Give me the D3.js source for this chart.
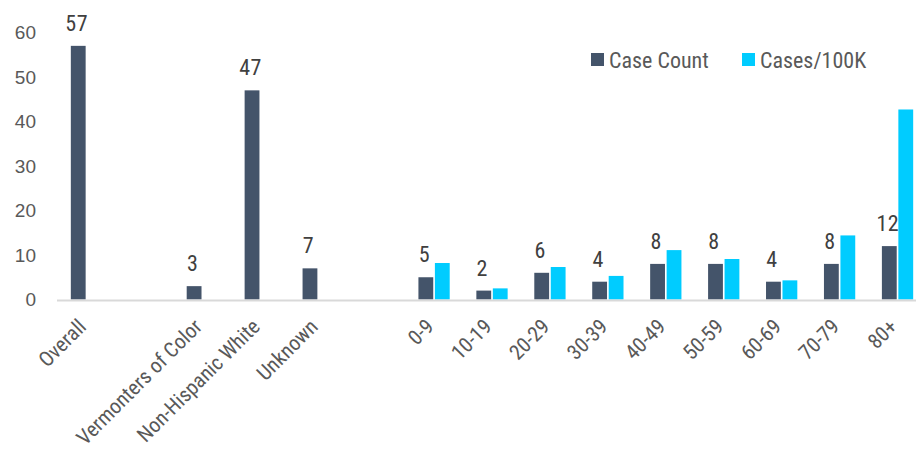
<!DOCTYPE html>
<html>
<head>
<meta charset="utf-8">
<script src="https://cdn.jsdelivr.net/npm/d3@7"></script>
<style>
  body { margin: 0; background: #fff; }
  svg text { font-family: "Liberation Sans Narrow", "Roboto Condensed", "Liberation Sans", sans-serif; }
  svg text.ytick { font-family: "Liberation Sans", Arial, sans-serif; }
</style>
</head>
<body>
<div id="chart"></div>
<script>
// empty strings are the blank slots between the groups
var categories = ["Overall", "", "Vermonters of Color", "Non-Hispanic White", "Unknown", "",
  "0-9", "10-19", "20-29", "30-39", "40-49", "50-59", "60-69", "70-79", "80+"];
var caseCount = [57, null, 3, 47, 7, null, 5, 2, 6, 4, 8, 8, 4, 8, 12];
var casesPer100K = [null, null, null, null, null, null, 8.2, 2.5, 7.3, 5.3, 11.1, 9.1, 4.3, 14.4, 42.7];
var seriesNames = ["Case Count", "Cases/100K"];
var yTicks = [0, 10, 20, 30, 40, 50, 60];

var width = 916, height = 452;
var colors = ["#44546a", "#00ccff"];

var svg = d3.select("#chart").append("svg")
  .attr("width", width)
  .attr("height", height);

// the plot area runs a little past the right edge, as in the original
var x0 = d3.scaleBand()
  .domain(d3.range(categories.length))
  .range([57.5, 926.5])
  .paddingInner(0.46)
  .paddingOuter(0.23);

var x1 = d3.scaleBand()
  .domain([0, 1])
  .range([0, x0.bandwidth()])
  .paddingInner(0.1);

var y = d3.scaleLinear()
  .domain([0, 60])
  .range([299.5, 32.5]);

// y tick labels, no axis line
svg.append("g")
  .selectAll("text")
  .data(yTicks)
  .enter()
  .append("text")
  .attr("class", "ytick")
  .attr("x", 36)
  .attr("y", d => y(d))
  .attr("dy", "0.35em")
  .attr("text-anchor", "end")
  .attr("fill", "#595959")
  .attr("font-size", 19)
  .text(d => d);

var rows = categories.map((c, i) => ({ i: i, vals: [caseCount[i], casesPer100K[i]] }));

var groups = svg.append("g")
  .selectAll("g")
  .data(rows)
  .enter()
  .append("g")
  .attr("transform", d => "translate(" + x0(d.i) + ",0)");

groups.selectAll("rect")
  .data(d => d.vals.map((v, s) => ({ s: s, v: v })).filter(e => e.v != null))
  .enter()
  .append("rect")
  .attr("x", d => x1(d.s))
  .attr("width", x1.bandwidth())
  .attr("y", d => y(d.v))
  .attr("height", d => y(0) - y(d.v))
  .attr("fill", d => colors[d.s]);

// data labels above the case count bars
groups.filter(d => d.vals[0] != null)
  .append("text")
  .attr("x", x1(0) + x1.bandwidth() / 2 - 1.5)
  .attr("y", d => y(d.vals[0]) - 15)
  .attr("text-anchor", "middle")
  .attr("fill", "#404040")
  .attr("font-size", 22)
  .attr("letter-spacing", 0.5)
  .text(d => d.vals[0]);

// x axis line
svg.append("line")
  .attr("x1", 57)
  .attr("x2", 916)
  .attr("y1", y(0) + 1)
  .attr("y2", y(0) + 1)
  .attr("stroke", "#d9d9d9")
  .attr("stroke-width", 2);

// rotated category labels
svg.append("g")
  .selectAll("text")
  .data(rows.filter(d => categories[d.i] !== ""))
  .enter()
  .append("text")
  .attr("transform", d => "translate(" + (x0(d.i) + x0.bandwidth() / 2 + 1) + "," + 328 + ") rotate(-45)")
  .attr("text-anchor", "end")
  .attr("fill", "#595959")
  .attr("font-size", 21)
  .text(d => categories[d.i]);

// legend
var legend = svg.append("g")
  .selectAll("g")
  .data(seriesNames)
  .enter()
  .append("g")
  .attr("transform", (d, i) => "translate(" + [591, 742][i] + ",53)");

legend.append("rect")
  .attr("width", 13)
  .attr("height", 13)
  .attr("fill", (d, i) => colors[i]);

legend.append("text")
  .attr("x", 18)
  .attr("y", 7)
  .attr("dy", "0.35em")
  .attr("fill", "#595959")
  .attr("font-size", 22)
  .text(d => d);
</script>
</body>
</html>
